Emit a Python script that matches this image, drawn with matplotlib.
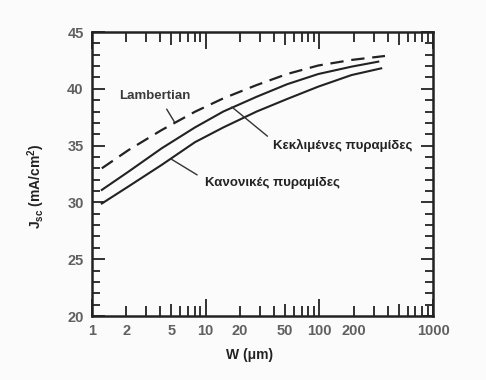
import numpy as np
import matplotlib
matplotlib.use('Agg')
import matplotlib.pyplot as plt

# data
w_lamb = [1.22, 2.09, 4.1, 8.05, 14.3, 28.1, 52, 97.8, 192, 378]
jsc_lamb = [33.0, 34.6, 36.37, 37.98, 39.16, 40.33, 41.3, 42.05, 42.54, 42.89]

w_tilt = [1.22, 2.09, 4.1, 8.05, 14.3, 28.1, 52, 97.8, 192, 330]
jsc_tilt = [31.1, 32.7, 34.76, 36.6, 38.0, 39.3, 40.4, 41.3, 41.95, 42.39]

w_reg = [1.22, 2.09, 4.1, 8.05, 14.3, 28.1, 52, 97.8, 192, 350]
jsc_reg = [29.9, 31.4, 33.3, 35.3, 36.6, 38.0, 39.1, 40.19, 41.21, 41.8]

xticks = [1, 2, 5, 10, 20, 50, 100, 200, 1000]
yticks = [20, 25, 30, 35, 40, 45]

plt.rcParams['font.family'] = ['Liberation Sans', 'DejaVu Sans']

fig = plt.figure(figsize=(4.86, 3.8), dpi=100, facecolor='#fbfbfb')
ax = fig.add_axes([92/486, 64/380, 341/486, 284/380])
ax.set_facecolor('#fbfbfb')

ax.plot(w_lamb, jsc_lamb, color='#222', lw=1.6, dashes=(6, 3.5))
ax.plot(w_tilt, jsc_tilt, color='#222', lw=1.5)
ax.plot(w_reg, jsc_reg, color='#222', lw=1.5)

ax.set_xscale('log')
ax.set_xlim(1, 1000)
ax.set_ylim(20, 45)

# ticks
ax.set_xticks(xticks)
ax.set_xticklabels([str(t) for t in xticks])
minor_x = [m * d for d in [1, 10, 100] for m in range(2, 10) if m * d not in xticks]
ax.set_xticks(minor_x, minor=True)
ax.set_xticklabels([], minor=True)
ax.set_yticks(yticks)
ax.set_yticks(np.arange(20, 46, 1), minor=True)

ax.tick_params(which='both', direction='in', top=True, right=True, width=1.3,
               colors='#222', labelcolor='#606060', labelsize=10.5, pad=6)
ax.tick_params(axis='y', which='major', length=9)
ax.tick_params(axis='y', which='minor', length=6)
ax.tick_params(axis='x', which='minor', length=7)

def xlen(v):
    if v in (1, 10, 100, 1000):
        return 12
    if v in (5, 50, 500):
        return 9
    return 7

for t, v in zip(ax.xaxis.get_major_ticks(), xticks):
    t.tick1line.set_markersize(xlen(v))
    t.tick2line.set_markersize(xlen(v))
for t, v in zip(ax.xaxis.get_minor_ticks(), minor_x):
    t.tick1line.set_markersize(xlen(v))
    t.tick2line.set_markersize(xlen(v))

for lab in ax.get_xticklabels() + ax.get_yticklabels():
    lab.set_fontweight('bold')

for s in ax.spines.values():
    s.set_linewidth(1.8)
    s.set_color('#222')

fig.text(36/486, 1 - 186/380, 'J$_{\\mathregular{sc}}$ (mA/cm$^{\\mathregular{2}}$)',
         rotation=90, ha='center', va='center', fontsize=10, fontweight='bold', color='#222')
fig.text(250/486, 1 - 355/380, 'W (μm)', ha='center', va='center',
         fontsize=10, fontweight='bold', color='#222')

# annotations
ax.annotate('Lambertian', xy=(5.3, 37.1), xytext=(3.58, 39.4), ha='center', va='center',
            fontsize=9.5, fontweight='bold', color='#3a3a3a',
            arrowprops=dict(arrowstyle='-', color='#333', lw=1.0, shrinkA=4, shrinkB=0,
                            relpos=(0.6, 0.0)))
ax.annotate('Κεκλιμένες πυραμίδες', xy=(17, 38.4), xytext=(665, 35.05), ha='right', va='center',
            fontsize=9.5, fontweight='bold', color='#222',
            arrowprops=dict(arrowstyle='-', color='#333', lw=1.0, shrinkA=3, shrinkB=0,
                            relpos=(0.0, 0.8)))
ax.annotate('Κανονικές πυραμίδες', xy=(5.0, 33.8), xytext=(38.4, 31.7), ha='center', va='center',
            fontsize=9.5, fontweight='bold', color='#222',
            arrowprops=dict(arrowstyle='-', color='#333', lw=1.0, shrinkA=4, shrinkB=0,
                            relpos=(0.0, 0.8)))

fig.savefig('out.png', dpi=100, facecolor=fig.get_facecolor())
